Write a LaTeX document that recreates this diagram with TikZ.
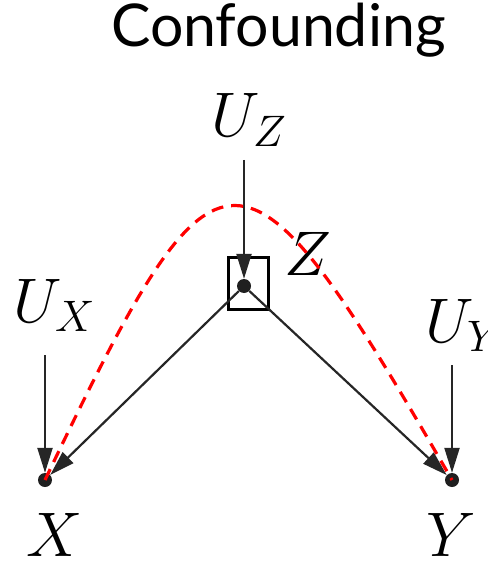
\RequirePackage{fix-cm}
\documentclass[tikz,border=0pt]{standalone}
\usepackage{fontspec}
\newfontfamily\titlefont{Lato}
\usetikzlibrary{arrows.meta}
\begin{document}
\begin{tikzpicture}[x=1pt,y=-1pt,
  lbl/.style={inner sep=0pt,font=\fontsize{63}{65}\selectfont},
  dotnode/.style={circle,fill=black!88,inner sep=0pt,minimum size=14pt},
  edge/.style={draw=black!85,line width=2.2pt,-{Triangle[length=25pt,width=15pt]}},
  conf/.style={draw=red,line width=3.2pt,dash pattern=on 12pt off 8pt}]
\useasboundingbox (0,0) rectangle (487,561);
\node[anchor=base west,inner sep=0pt,font=\titlefont\fontsize{59}{62}\selectfont] (title) at (111,47) {Confounding};
\node[dotnode] (z) at (244,286) {};
\node[dotnode] (x) at (45,480) {};
\node[dotnode] (y) at (452,480) {};
\node[draw,line width=3pt,minimum width=40pt,minimum height=52pt,inner sep=0pt] (box) at (248.5,283) {};
\node[lbl,anchor=base west] (uz) at (211,137) {$U_Z$};
\node[lbl,anchor=base west] (ux) at (13,322) {$U_X$};
\node[lbl,anchor=base west] (uy) at (425,342) {$U_Y$};
\node[lbl,anchor=base west] (zl) at (284,275) {$Z$};
\node[lbl,anchor=base west] (xl) at (26,556) {$X$};
\node[lbl,anchor=base west] (yl) at (426,556) {$Y$};
\coordinate (uzs) at (244,160);
\coordinate (uxs) at (45,355);
\coordinate (uys) at (452,365);
\draw[edge] (uzs) -- (z);
\draw[edge] (uxs) -- (x);
\draw[edge] (uys) -- (y);
\draw[edge] (z) -- (x);
\draw[edge] (z) -- (y);
\draw[conf] (x.center) .. controls (220,114) and (240,114) .. (y.center);
\end{tikzpicture}
\end{document}
